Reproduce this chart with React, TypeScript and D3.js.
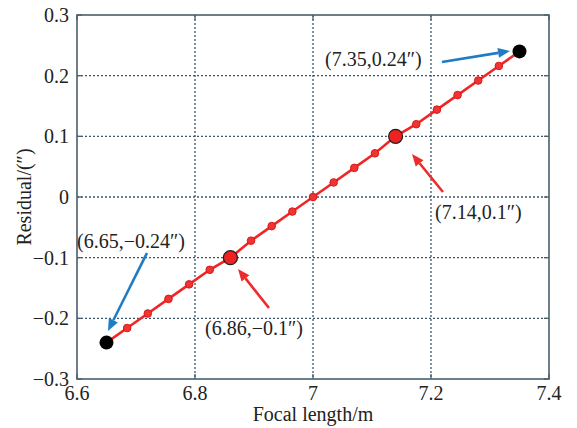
import React from "react";
import * as d3 from "d3";

const xTicks = [6.6, 6.8, 7.0, 7.2, 7.4];
const yTicks = [-0.3, -0.2, -0.1, 0, 0.1, 0.2, 0.3];
const xTickLabels = ["6.6", "6.8", "7", "7.2", "7.4"];
const yTickLabels = ["\u22120.3", "\u22120.2", "\u22120.1", "0", "0.1", "0.2", "0.3"];

const focal = [6.65, 6.685, 6.72, 6.755, 6.79, 6.825, 6.86, 6.895, 6.93, 6.965, 7.0, 7.035, 7.07, 7.105, 7.14, 7.175, 7.21, 7.245, 7.28, 7.315, 7.35];
const residual = [-0.24, -0.216, -0.192, -0.168, -0.144, -0.12, -0.1, -0.072, -0.048, -0.024, 0, 0.024, 0.048, 0.072, 0.1, 0.12, 0.144, 0.168, 0.192, 0.216, 0.24];

const redIdx = [6, 14];
const blackIdx = [0, 20];

// annotations: label text, label anchor (data), arrow from/to (data), colour
const annText = ["(7.35,0.24\u2033)", "(7.14,0.1\u2033)", "(6.65,\u22120.24\u2033)", "(6.86,\u22120.1\u2033)"];
const annLabelX = [7.0203, 7.2068, 6.6, 6.817];
const annLabelY = [0.216, -0.036, -0.084, -0.2275];
const annFromX = [7.2186, 7.2203, 6.7186, 6.9254];
const annFromY = [0.2225, 0.0082, -0.0923, -0.183];
const annToX = [7.334, 7.1678, 6.6525, 6.8729];
const annToY = [0.2407, 0.0709, -0.2209, -0.1187];
const annColor = ["#1f7cc4", "#ee2b2b", "#1f7cc4", "#ee2b2b"];

const W = 577;
const H = 428;
const M = { left: 77, top: 15, right: 549, bottom: 379 };
const FONT = "'Liberation Serif', 'Times New Roman', serif";
const AX = "#4a5f6c";
const GRID = "#3b566a";

export default function App() {
  const x = d3.scaleLinear().domain([6.6, 7.4]).range([M.left, M.right]);
  const y = d3.scaleLinear().domain([-0.3, 0.3]).range([M.bottom, M.top]);
  const line = d3
    .line<number>()
    .x((_, i) => x(focal[i]))
    .y((_, i) => y(residual[i]));

  const arrow = (i: number) => {
    const x1 = x(annFromX[i]);
    const y1 = y(annFromY[i]);
    const x2 = x(annToX[i]);
    const y2 = y(annToY[i]);
    const ang = Math.atan2(y2 - y1, x2 - x1);
    const L = 12;
    const Wd = 5;
    const bx = x2 - L * Math.cos(ang);
    const by = y2 - L * Math.sin(ang);
    const px = -Math.sin(ang) * Wd;
    const py = Math.cos(ang) * Wd;
    return (
      <g key={"a" + i}>
        <line x1={x1} y1={y1} x2={bx} y2={by} stroke={annColor[i]} strokeWidth={2.6} />
        <polygon
          points={`${x2},${y2} ${bx + px},${by + py} ${bx - px},${by - py}`}
          fill={annColor[i]}
        />
      </g>
    );
  };

  return (
    <svg
      width={W}
      height={H}
      style={{ position: "absolute", left: 0, top: 0, background: "#fff" }}
      fontFamily={FONT}
    >
      {/* grid */}
      {xTicks.slice(1, -1).map((t) => (
        <line
          key={"gx" + t}
          x1={x(t)}
          x2={x(t)}
          y1={M.top}
          y2={M.bottom}
          stroke={GRID}
          strokeWidth={1.3}
          strokeDasharray="2,2"
        />
      ))}
      {yTicks.slice(1, -1).map((t) => (
        <line
          key={"gy" + t}
          x1={M.left}
          x2={M.right}
          y1={y(t)}
          y2={y(t)}
          stroke={GRID}
          strokeWidth={1.3}
          strokeDasharray="2,2"
        />
      ))}
      {/* inward ticks */}
      {xTicks.map((t) => (
        <g key={"tx" + t}>
          <line x1={x(t)} x2={x(t)} y1={M.bottom} y2={M.bottom - 5} stroke={AX} strokeWidth={1.3} />
          <line x1={x(t)} x2={x(t)} y1={M.top} y2={M.top + 5} stroke={AX} strokeWidth={1.3} />
        </g>
      ))}
      {yTicks.map((t) => (
        <g key={"ty" + t}>
          <line x1={M.left} x2={M.left + 5} y1={y(t)} y2={y(t)} stroke={AX} strokeWidth={1.3} />
          <line x1={M.right} x2={M.right - 5} y1={y(t)} y2={y(t)} stroke={AX} strokeWidth={1.3} />
        </g>
      ))}
      {/* frame */}
      <rect
        x={M.left}
        y={M.top}
        width={M.right - M.left}
        height={M.bottom - M.top}
        fill="none"
        stroke={AX}
        strokeWidth={1.6}
      />
      {/* tick labels */}
      {xTicks.map((t, i) => (
        <text key={"lx" + t} x={x(t)} y={M.bottom + 21} textAnchor="middle" fontSize={20} fill="#222">
          {xTickLabels[i]}
        </text>
      ))}
      {yTicks.map((t, i) => (
        <text key={"ly" + t} x={M.left - 8} y={y(t)} dy="0.35em" textAnchor="end" fontSize={20} fill="#222">
          {yTickLabels[i]}
        </text>
      ))}
      {/* axis titles */}
      <text x={(M.left + M.right) / 2} y={421} textAnchor="middle" fontSize={20} fill="#222">
        Focal length/m
      </text>
      <text
        transform={`translate(31,${(M.top + M.bottom) / 2}) rotate(-90)`}
        textAnchor="middle"
        fontSize={20}
        fill="#222"
      >
        Residual/(″)
      </text>
      {/* data line */}
      <path d={line(focal) || ""} fill="none" stroke="#f02525" strokeWidth={2.6} />
      {focal.map((f, i) =>
        redIdx.includes(i) || blackIdx.includes(i) ? null : (
          <circle key={"p" + i} cx={x(f)} cy={y(residual[i])} r={3.8} fill="#f03333" stroke="#d81818" strokeWidth={1} />
        )
      )}
      {redIdx.map((i) => (
        <circle key={"r" + i} cx={x(focal[i])} cy={y(residual[i])} r={7} fill="#ee2222" stroke="#2a1a1a" strokeWidth={1.2} />
      ))}
      {blackIdx.map((i) => (
        <circle key={"b" + i} cx={x(focal[i])} cy={y(residual[i])} r={7} fill="#000" />
      ))}
      {/* annotations */}
      {annText.map((_, i) => arrow(i))}
      {annText.map((t, i) => (
        <text key={"at" + i} x={x(annLabelX[i])} y={y(annLabelY[i])} fontSize={20} fill="#222">
          {t}
        </text>
      ))}
    </svg>
  );
}
